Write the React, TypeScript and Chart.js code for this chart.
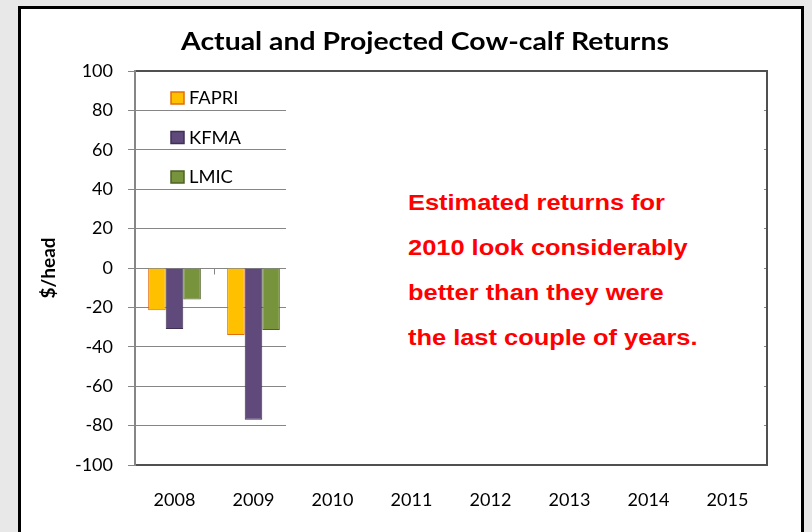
import React, { useEffect, useRef } from "react";
import { Chart, registerables } from "chart.js";

Chart.register(...registerables);

const categories = ["2008", "2009", "2010", "2011", "2012", "2013", "2014", "2015"];
const fapri = [-21.5, -34, null, null, null, null, null, null];
const kfma = [-31, -77, null, null, null, null, null, null];
const lmic = [-16, -31.5, null, null, null, null, null, null];
const seriesNames = ["FAPRI", "KFMA", "LMIC"];
const chartTitle = "Actual and Projected Cow-calf Returns";
const yTitle = "$/head";
const noteLines = [
  "Estimated returns for",
  "2010 look considerably",
  "better than they were",
  "the last couple of years.",
];

const W = 812;
const H = 532;

const decorPlugin = {
  id: "decor",
  beforeDatasetsDraw(chart: any) {
    const { ctx } = chart;
    const xs = chart.scales.x;
    const ys = chart.scales.y;
    const y0 = Math.round(ys.getPixelForValue(0)) + 0.5;
    ctx.save();
    ctx.strokeStyle = "#868686";
    ctx.lineWidth = 1;
    for (let i = 1; i < categories.length; i++) {
      const x = Math.round(xs.getPixelForValue(i - 0.5)) + 0.5;
      ctx.beginPath();
      ctx.moveTo(x, y0);
      ctx.lineTo(x, y0 + 6);
      ctx.stroke();
    }
    ctx.restore();
  },
  afterDraw(chart: any) {
    const { ctx, chartArea } = chart;
    const { left, top, right, bottom } = chartArea;
    ctx.save();
    // plot border
    ctx.strokeStyle = "#505050";
    ctx.lineWidth = 2;
    ctx.beginPath();
    ctx.moveTo(left, top);
    ctx.lineTo(right, top);
    ctx.lineTo(right, bottom);
    ctx.lineTo(left, bottom);
    ctx.stroke();
    ctx.strokeStyle = "#868686";
    ctx.beginPath();
    ctx.moveTo(left, top - 1);
    ctx.lineTo(left, bottom + 1);
    ctx.stroke();
    // title
    ctx.save();
    ctx.fillStyle = "#000";
    ctx.font = "bold 25px Lato";
    ctx.textAlign = "center";
    ctx.textBaseline = "alphabetic";
    ctx.translate(425, 50);
    ctx.scale(1.135, 1);
    ctx.fillText(chartTitle, 0, 0);
    ctx.restore();
    // legend
    ctx.font = "17px Lato";
    ctx.textAlign = "left";
    ctx.textBaseline = "middle";
    chart.data.datasets.forEach((ds: any, i: number) => {
      const cy = top + 27 + i * 39.5;
      ctx.fillStyle = ds.backgroundColor;
      ctx.fillRect(171, cy - 6, 13, 12);
      ctx.strokeStyle = ds.borderColor;
      ctx.lineWidth = 1.5;
      ctx.strokeRect(171, cy - 6, 13, 12);
      ctx.fillStyle = "#000";
      ctx.save();
      ctx.translate(189, cy + 1);
      ctx.scale(1.08, 1);
      ctx.fillText(ds.label, 0, 0);
      ctx.restore();
    });
    ctx.restore();
  },
};

export default function App() {
  const ref = useRef<HTMLCanvasElement | null>(null);
  useEffect(() => {
    if (!ref.current) return;
    const chart = new Chart(ref.current, {
      type: "bar",
      data: {
        labels: categories,
        datasets: [
          { label: seriesNames[0], data: fapri, backgroundColor: "#ffc000", borderColor: "#e46c0a", borderWidth: 1 },
          { label: seriesNames[1], data: kfma, backgroundColor: "#604a7b", borderColor: "#3f3151", borderWidth: 1 },
          { label: seriesNames[2], data: lmic, backgroundColor: "#77933c", borderColor: "#4f6228", borderWidth: 1 },
        ],
      },
      options: {
        responsive: false,
        maintainAspectRatio: false,
        animation: false,
        layout: { padding: { left: 20, top: 71, right: 45, bottom: 0 } },
        plugins: {
          legend: { display: false },
          title: { display: false },
          tooltip: { enabled: false },
        },
        datasets: { bar: { categoryPercentage: 0.667, barPercentage: 1 } },
        scales: {
          x: {
            type: "category",
            offset: true,
            grid: { display: false, drawTicks: false },
            border: { display: false },
            ticks: { color: "#000", font: { family: "Lato", size: 18 }, padding: 24, maxRotation: 0, autoSkip: false },
            afterFit: (s: any) => { s.height = 67; },
          },
          y: {
            min: -100,
            max: 100,
            ticks: { stepSize: 20, color: "#000", font: { family: "Lato", size: 18 }, padding: 15 },
            grid: { color: "#868686", lineWidth: 1, tickLength: 7, drawTicks: true },
            border: { display: false },
            title: { display: true, text: yTitle, color: "#000", font: { family: "Lato", size: 19, weight: "bold" }, padding: { top: 17, bottom: 0 } },
            afterFit: (s: any) => { s.width = 115; },
          },
        },
      },
      plugins: [decorPlugin],
    });
    return () => chart.destroy();
  }, []);

  return (
    <div style={{ position: "absolute", left: 0, top: 0, width: W, height: H, background: "#e8e8e8", overflow: "hidden" }}>
      <div style={{ position: "absolute", left: 18, top: 6, width: 786, height: 560, border: "3px solid #000", boxSizing: "border-box", background: "#fff" }} />
      <canvas ref={ref} width={W} height={H} style={{ position: "absolute", left: 0, top: 0, width: W, height: H }} />
      <div style={{ position: "absolute", left: 286, top: 73, width: 478, height: 390, background: "#fff" }} />
      <div style={{ position: "absolute", left: 408, top: 180, fontFamily: "'Liberation Sans', Arial, sans-serif", fontWeight: "bold", fontSize: 22, lineHeight: "45px", color: "#ff0000", whiteSpace: "nowrap", transform: "scaleX(1.155)", transformOrigin: "0 0" }}>
        {noteLines.map((l, i) => (<div key={i}>{l}</div>))}
      </div>
    </div>
  );
}
